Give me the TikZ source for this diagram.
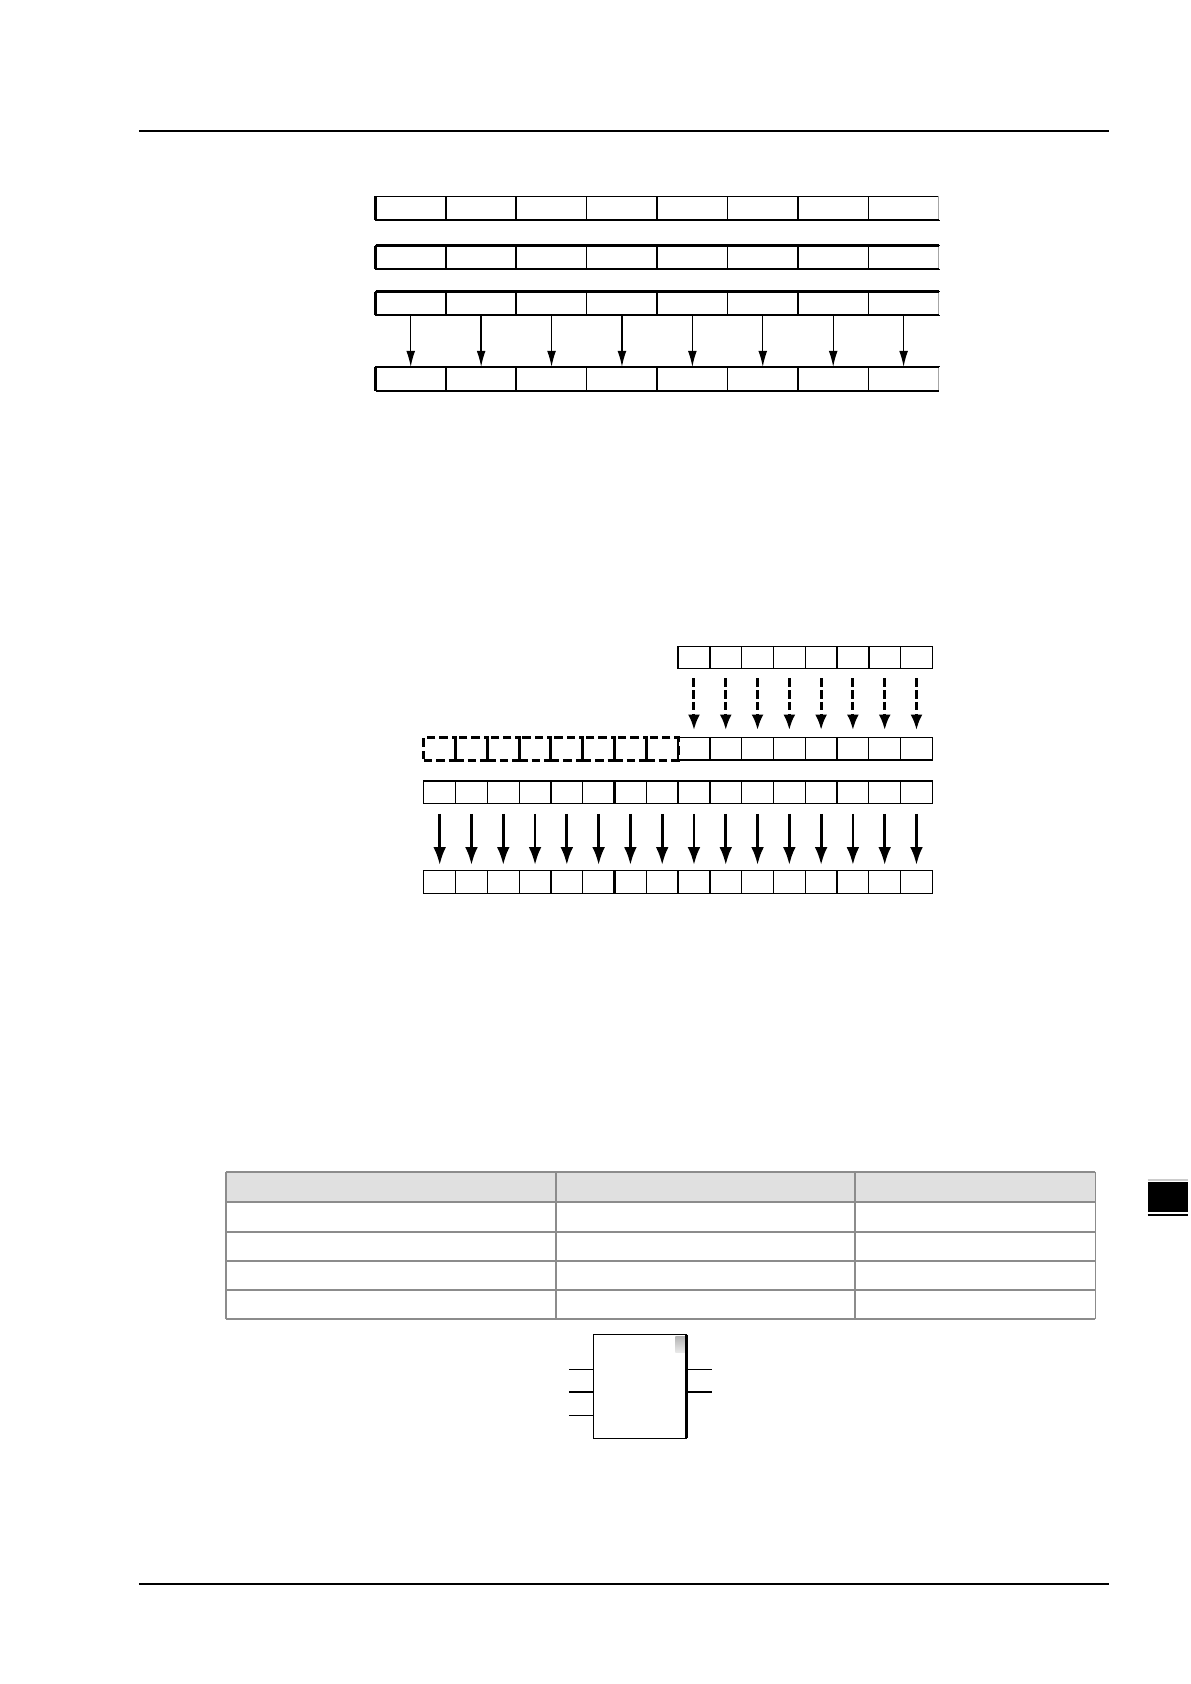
\documentclass[tikz,border=0pt]{standalone}
\usetikzlibrary{arrows.meta}
\def\u{0.53629pt}
\tikzset{
  cellA/.style={draw, line width=0.7pt, minimum width=65.625*\u, minimum height=22*\u, inner sep=0pt, outer sep=0pt},
  cellB/.style={draw, line width=0.65pt, minimum width=29.625*\u, minimum height=21*\u, inner sep=0pt, outer sep=0pt},
  cellD/.style={draw, line width=1.5pt, dash pattern=on 4.2pt off 2pt, minimum width=29.625*\u, minimum height=21*\u, inner sep=0pt, outer sep=0pt},
  thinarr/.style={line width=0.65pt, -{Latex[length=8pt,width=4.4pt]}},
  dasharr/.style={line width=1.5pt, dash pattern=on 4.2pt off 1.7pt, -{Latex[length=7.8pt,width=6pt]}},
  boldarr/.style={line width=1.4pt, -{Latex[length=9pt,width=6.4pt]}},
  tline/.style={draw=black!45, line width=0.9pt},
}
\begin{document}
\begin{tikzpicture}[x=\u, y=-\u]
\useasboundingbox (0,0) rectangle (1110,1569.55);
% header / footer rules
\draw[line width=0.75pt] (129.5,122) -- (1033.5,122);
\draw[line width=0.75pt] (129.5,1476.5) -- (1033.5,1476.5);

% ---------- top diagram ----------
\foreach \r/\y in {1/194,2/240,3/283,4/353}{
  \foreach \c in {1,...,8}{
    \node[cellA] (t\r-\c) at ({350+(\c-0.5)*65.625},\y) {};
  }
  \draw[white, line width=0.9pt] (t\r-8.north east) -- (t\r-8.south east);
  \draw[black!35, line width=0.4pt] (t\r-8.north east) -- (t\r-8.south east);
  \draw[line width=1.4pt] (t\r-1.north west) -- (t\r-1.south west);
  \draw[line width=1.1pt] (t\r-2.north east) -- (t\r-2.south east);
  \draw[line width=1.1pt] (t\r-4.north east) -- (t\r-4.south east);
  \draw[line width=1pt] (t\r-1.south west) -- (t\r-8.south east);
}
\foreach \r in {2,3,4}{
  \draw[line width=1.4pt] (t\r-1.north west) -- (t\r-8.north east);
}
\foreach \c in {1,...,8}{
  \draw[thinarr] (t3-\c.south) -- (t4-\c.north);
}

% ---------- middle diagram ----------
\foreach \c in {1,...,8}{
  \node[cellB, minimum height=20.5*\u] (m1-\c) at ({632+(\c-0.5)*29.625},612.5) {};
}
\draw[line width=1pt] (m1-5.north east) -- (m1-5.south east);
\draw[line width=1pt] (m1-6.north east) -- (m1-6.south east);

\foreach \c in {1,...,8}{
  \node[cellD] (m2-\c) at ({395+(\c-0.5)*29.625},698) {};
}
\foreach \c in {9,...,16}{
  \node[cellB] (m2-\c) at ({395+(\c-0.5)*29.625},698) {};
}
\draw[line width=1.2pt] (m2-9.south west) -- (m2-16.south east);

\foreach \c in {1,...,16}{
  \node[cellB] (m3-\c) at ({395+(\c-0.5)*29.625},738.5) {};
  \node[cellB, minimum height=21.5*\u] (m4-\c) at ({395+(\c-0.5)*29.625},822) {};
}
\draw[line width=1.1pt] (m3-6.north east) -- (m3-6.south east);
\draw[line width=1.1pt] (m4-6.north east) -- (m4-6.south east);

\foreach \c [evaluate=\c as \k using {int(\c+8)}] in {1,...,8}{
  \draw[dasharr, shorten <=9.5*\u, shorten >=7*\u] (m1-\c.south) -- (m2-\k.north);
}
\foreach \c in {1,...,16}{
  \draw[boldarr, shorten <=9.5*\u, shorten >=5*\u] (m3-\c.south) -- (m4-\c.north);
}

% ---------- table ----------
\fill[black!12] (211,1092) rectangle (1021,1120);
\foreach \y in {1092,1120,1148,1175.5,1202.5,1229.5}{
  \draw[tline] (211,\y) -- (1021,\y);
}
\foreach \x in {211,518,797,1021}{
  \draw[tline] (\x,1092) -- (\x,1229.5);
}

% side tab
\fill[black] (1069.6,1101.3) rectangle (1107,1129.3);
\draw[black!20, line width=0.8pt] (1069.6,1099.6) -- (1107,1099.6);
\draw[line width=0.7pt] (1069.6,1132.4) -- (1107,1132.4);

% ---------- function block ----------
\node[draw, line width=0.75pt, minimum width=87*\u, minimum height=96.5*\u, inner sep=0pt, outer sep=0pt] (fb) at (596.5,1292.25) {};
\shade[top color=black!30, bottom color=black!8] (629.4,1245.2) rectangle (639.2,1260.7);
\draw[line width=1.2pt] (fb.north east) -- (fb.south east);
\coordinate (in1) at (530.3,1276.2);
\coordinate (in2) at (530.3,1297.3);
\coordinate (in3) at (530.3,1319);
\coordinate (out1) at (663.8,1276.2);
\coordinate (out2) at (663.8,1297.3);
\foreach \p in {in1,in2,in3}{
  \draw[line width=0.6pt] (\p) -- (fb.west |- \p);
}
\foreach \p in {out1,out2}{
  \draw[line width=0.6pt] (fb.east |- \p) -- (\p);
}
\end{tikzpicture}
\end{document}
